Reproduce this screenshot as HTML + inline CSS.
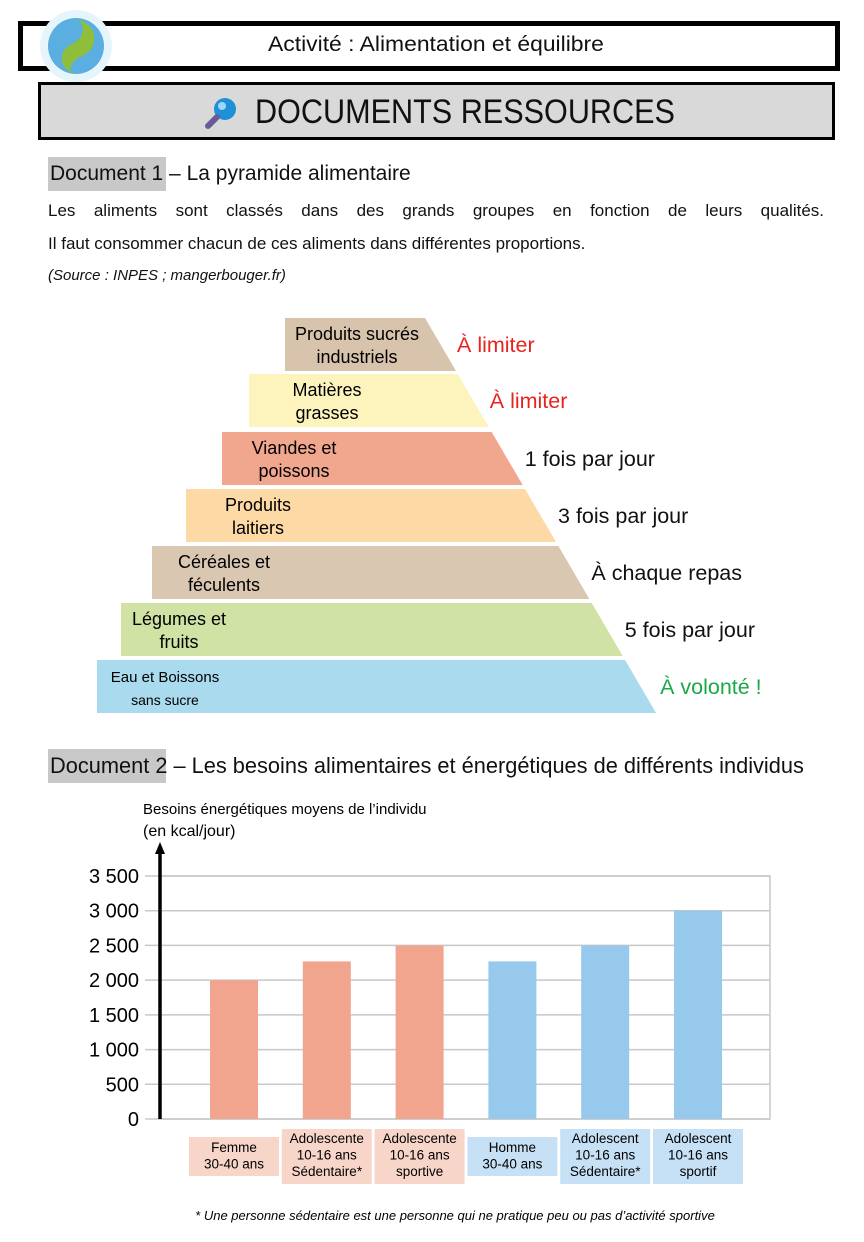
<!DOCTYPE html>
<html><head><meta charset="utf-8"><style>
*{margin:0;padding:0;box-sizing:border-box}
body{width:864px;height:1242px;background:#fff;position:relative;overflow:hidden;font-family:"Liberation Sans Narrow","Liberation Sans",sans-serif;color:#111}
.a{position:absolute;white-space:nowrap}
</style></head><body>
<div class="a" style="left:18px;top:21px;width:822px;height:50px;border:5px solid #000;background:#fff"></div>
<div class="a" style="left:268px;top:33px;font-size:21px;transform:scaleX(1.09);transform-origin:left">Activité : Alimentation et équilibre</div>
<svg class="a" style="left:38px;top:8px" width="76" height="76" viewBox="0 0 76 76">
<circle cx="38" cy="38" r="36" fill="#e6f5fc"/><circle cx="38" cy="38" r="28" fill="#5aaee0"/>
<path d="M40 12 C60 16 62 40 44 48 C30 54 30 66 38 66 C22 62 18 44 34 36 C46 30 48 18 40 12Z" fill="#8fbe3a"/></svg>
<div class="a" style="left:38px;top:82px;width:797px;height:58px;border:3px solid #000;background:#d9d9d9"></div>
<div class="a" style="left:255px;top:93px;font-size:34px;transform:scaleX(0.9);transform-origin:left">DOCUMENTS RESSOURCES</div>
<svg class="a" style="left:203px;top:95px" width="36" height="36"><circle cx="22" cy="14" r="11" fill="#1e90d8"/><circle cx="19" cy="11" r="4" fill="#9fd6f5"/><line x1="14" y1="22" x2="5" y2="31" stroke="#6a5a9a" stroke-width="6" stroke-linecap="round"/></svg>

<div class="a" style="left:48px;top:157px;width:118px;height:34px;background:#c8c8c8"></div>
<div class="a" style="left:50px;top:162px;font-size:21px">Document 1 – La pyramide alimentaire</div>
<div class="a" style="left:48px;top:201px;width:776px;font-size:17px;text-align:justify;text-align-last:justify;white-space:normal">Les aliments sont classés dans des grands groupes en fonction de leurs qualités.</div>
<div class="a" style="left:48px;top:234px;font-size:17px">Il faut consommer chacun de ces aliments dans différentes proportions.</div>
<div class="a" style="left:48px;top:267px;font-size:15px;font-style:italic">(Source : INPES ; mangerbouger.fr)</div>

<svg class="a" style="left:0;top:300px" width="864" height="430" id="pyr"></svg>

<div class="a" style="left:48px;top:749px;width:118px;height:34px;background:#c8c8c8"></div>
<div class="a" style="left:50px;top:753px;font-size:22px;transform:scaleX(0.99);transform-origin:left">Document 2 – Les besoins alimentaires et énergétiques de différents individus</div>

<svg class="a" style="left:0;top:790px" width="864" height="452" id="chart"></svg>

<script>
const layers=["Produits sucrés|industriels","Matières|grasses","Viandes et|poissons","Produits|laitiers","Céréales et|féculents","Légumes et|fruits","Eau et Boissons|sans sucre"];
const freq=["À limiter","À limiter","1 fois par jour","3 fois par jour","À chaque repas","5 fois par jour","À volonté !"];
const cols=["#d8c3ad","#fdf3bd","#f1a68e","#fdd9a6","#dac7b1","#d0e2a4","#a9daee"];
const fcols=["#e8231f","#e8231f","#111","#111","#111","#111","#1aa84a"];
const lefts=[285,249,222,186,152,121,97];
const tops=[318,374,432,489,546,603,660];
const ns="http://www.w3.org/2000/svg";
const pyr=document.getElementById('pyr');
function sx(y){return 425+0.585*(y-318);}
layers.forEach((t,i)=>{
 const y0=tops[i],y1=y0+53,o=300;
 const p=document.createElementNS(ns,'polygon');
 p.setAttribute('points',`${lefts[i]},${y0-o} ${sx(y0)},${y0-o} ${sx(y1)},${y1-o} ${lefts[i]},${y1-o}`);
 p.setAttribute('fill',cols[i]);
 
 
 pyr.appendChild(p);
 const parts=t.split('|');
 const cx=i==6?165:lefts[i]+(i==0?72:i==1?78:i==2?72:i==3?72:i==4?72:i==5?58:60);
 parts.forEach((s,k)=>{
  const tx=document.createElementNS(ns,'text');
  tx.setAttribute('x',cx);tx.setAttribute('y',y0-o+22+k*23);
  tx.setAttribute('text-anchor','middle');tx.setAttribute('font-size',i==6?(k==0?15:14):18);
  tx.textContent=s;
  
  
  pyr.appendChild(tx);
 });
 const f=document.createElementNS(ns,'text');
 f.setAttribute('x',sx(y0)+(i<2?32:i==6?35:33));f.setAttribute('y',y0-o+34);
 f.setAttribute('font-size',21.5);f.setAttribute('fill',fcols[i]);
 f.textContent=freq[i];
 
 
 pyr.appendChild(f);
});

const categories=["Femme|30-40 ans","Adolescente|10-16 ans|Sédentaire*","Adolescente|10-16 ans|sportive","Homme|30-40 ans","Adolescent|10-16 ans|Sédentaire*","Adolescent|10-16 ans|sportif"];
const values=[2000,2270,2500,2270,2500,3000];
const groups=["f","f","f","m","m","m"];
const tickValues=[0,500,1000,1500,2000,2500,3000,3500];
const tickLabels=["0","500","1 000","1 500","2 000","2 500","3 000","3 500"];
const ch=document.getElementById('chart');
const OY=790, x0=160,x1=770, yTop=876-OY, yBot=1119-OY;
const yS=v=>yBot-(v/3500)*(yBot-yTop);
const xC=i=>234+i*92.8;
function el(tag,attrs,name,txt){const e=document.createElementNS(ns,tag);for(const k in attrs)e.setAttribute(k,attrs[k]);if(txt!==undefined)e.textContent=txt;ch.appendChild(e);return e;}
el('text',{x:143,y:24,'font-size':15},'y-axis-title','Besoins énergétiques moyens de l’individu');
el('text',{x:143,y:46,'font-size':16},'y-axis-unit','(en kcal/jour)');
el('rect',{x:x0,y:yTop,width:x1-x0,height:yBot-yTop,fill:'none',stroke:'#c8c8c8','stroke-width':1.5},'plot-frame');
tickValues.forEach((v,i)=>{
 el('line',{x1:145,x2:x1,y1:yS(v),y2:yS(v),stroke:'#c8c8c8','stroke-width':1.5},'gridline');
 el('text',{x:139,y:yS(v)+7,'font-size':20,'text-anchor':'end'},'y-tick-label',tickLabels[i]);
});
const bw=48;
values.forEach((v,i)=>{
 el('rect',{x:xC(i)-bw/2,y:yS(v),width:bw,height:yBot-yS(v),fill:groups[i]=='f'?'#f2a58e':'#97c9ec'},'bar');
 const parts=categories[i].split('|');
 const two=parts.length==2;
 const bt=two?1137:1129, h=two?39:55;
 el('rect',{x:xC(i)-45,y:bt-OY,width:90,height:h,fill:groups[i]=='f'?'#f8d5c9':'#c6e1f5'},'category-box');
 parts.forEach((s,k)=>{
  el('text',{x:xC(i),y:bt-OY+(two?15:14)+k*16.5,'font-size':13.5,'text-anchor':'middle'},'category-label',s);
 });
});
el('line',{x1:x0,x2:x0,y1:yBot,y2:62,stroke:'#000','stroke-width':3.5},'y-axis');
el('polygon',{points:`${x0-5},64 ${x0+5},64 ${x0},52`,fill:'#000'},'y-axis-arrow');
el('text',{x:455,y:430,'font-size':13,'font-style':'italic','text-anchor':'middle'},'footnote','* Une personne sédentaire est une personne qui ne pratique peu ou pas d’activité sportive');
</script>
</body></html>
